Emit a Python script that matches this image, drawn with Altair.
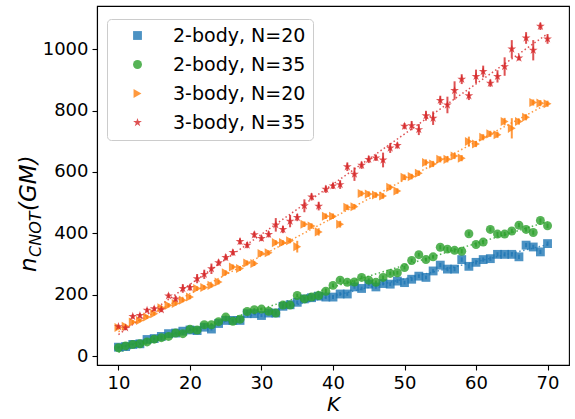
import altair as alt
import pandas as pd

K = list(range(10, 71))

series_names = ["2-body, N=20", "2-body, N=35", "3-body, N=20", "3-body, N=35"]
colors = ["#1f77b4", "#2ca02c", "#ff7f0e", "#d62728"]
STAR = ("M0,-1L0.2245,-0.309L0.951,-0.309L0.363,0.118L0.588,0.809L0,0.382"
        "L-0.588,0.809L-0.363,0.118L-0.951,-0.309L-0.2245,-0.309Z")
shapes = ["square", "circle", "triangle-right", STAR]
marker_sizes = [78, 85, 92, 140]

blue_vals = [30, 32, 39, 41, 55, 58, 65, 74, 76, 82, 86, 84, 95, 89, 107, 117, 117, 117, 139, 139,
             133, 141, 141, 163, 168, 176, 187, 191, 196, 193, 193, 203, 203, 226, 221, 235, 226, 237,
             235, 245, 240, 251, 261, 257, 278, 297, 284, 284, 315, 293, 306, 315, 318, 332, 332, 332,
             324, 362, 356, 340, 367]
blue_err = [3, 3, 3, 3, 4, 4, 4, 4, 4, 4, 4, 4, 5, 5, 5, 5, 5, 5, 5, 5, 5, 5, 5, 5, 5, 6, 6, 6, 6, 6,
            6, 6, 6, 6, 6, 6, 6, 6, 6, 6, 6, 6, 6, 6, 6, 7, 7, 7, 7, 7, 7, 7, 7, 7, 7, 7, 7, 7, 7, 7, 7]

green_vals = [28, 34, 39, 41, 47, 56, 61, 65, 76, 74, 88, 86, 103, 103, 113, 128, 114, 121, 146, 152,
              154, 147, 141, 167, 167, 198, 187, 193, 198, 212, 231, 248, 241, 242, 257, 248, 241, 257,
              270, 272, 289, 312, 331, 315, 324, 355, 349, 345, 342, 399, 364, 372, 413, 398, 398, 408,
              427, 413, 403, 442, 425]
green_err = [3, 3, 3, 3, 4, 4, 4, 4, 4, 4, 4, 4, 5, 5, 5, 5, 5, 5, 5, 5, 5, 5, 5, 5, 5, 6, 6, 6, 6, 6,
             6, 6, 6, 6, 6, 6, 6, 6, 6, 6, 6, 6, 6, 6, 6, 7, 7, 7, 7, 7, 7, 7, 7, 7, 7, 7, 7, 7, 7, 7, 7]

orange_vals = [94, 98, 112, 117, 128, 139, 158, 166, 172, 183, 193, 221, 224, 231, 242, 272, 291, 286,
               304, 302, 335, 337, 370, 370, 376, 357, 430, 424, 405, 456, 456, 430, 485, 487, 530,
               528, 525, 522, 550, 538, 583, 585, 596, 631, 626, 641, 641, 652, 645, 699, 691, 713,
               724, 721, 764, 742, 764, 778, 826, 824, 822]
orange_err = [6, 6, 6, 6, 6, 6, 7, 7, 7, 7, 7, 7, 7, 7, 8, 8, 8, 8, 8, 8, 8, 8, 8, 8, 8, 19, 9, 9, 12,
              9, 9, 11, 9, 9, 9, 9, 9, 9, 9, 9, 9, 9, 9, 10, 10, 10, 10, 10, 10, 16, 10, 10, 10, 10, 12,
              33, 10, 10, 10, 10, 10]

red_vals = [97, 93, 130, 133, 150, 155, 152, 197, 187, 221, 224, 253, 267, 285, 305, 322, 338, 374, 362,
            396, 384, 397, 428, 413, 440, 452, 490, 519, 489, 544, 555, 559, 617, 593, 622, 641, 646,
            639, 678, 686, 749, 751, 738, 783, 775, 833, 818, 865, 902, 848, 911, 927, 889, 911, 943,
            1000, 971, 1036, 996, 1074, 1033]
red_err = [6, 6, 7, 7, 7, 8, 8, 8, 9, 14, 10, 15, 15, 17, 10, 10, 10, 10, 10, 10, 9, 10, 22, 12, 20, 12,
           21, 12, 14, 12, 10, 14, 14, 22, 12, 12, 10, 24, 16, 10, 10, 15, 18, 16, 22, 15, 27, 30, 16,
           14, 22, 19, 12, 20, 30, 29, 8, 19, 33, 12, 16]

x_ticks = [10, 20, 30, 40, 50, 60, 70]
y_ticks = [0, 200, 400, 600, 800, 1000]

rows = []
for name, vals, errs in zip(series_names,
                            [blue_vals, green_vals, orange_vals, red_vals],
                            [blue_err, green_err, orange_err, red_err]):
    for k, v, e in zip(K, vals, errs):
        rows.append({"series": name, "K": k, "v": v, "lo": v - e, "hi": v + e})
df = pd.DataFrame(rows)

FONT = "DejaVu Sans"

xscale = alt.Scale(domain=[7, 73], nice=False, zero=False)
yscale = alt.Scale(domain=[-28, 1140], nice=False, zero=False)
xenc = alt.X("K:Q", scale=xscale,
             axis=alt.Axis(values=x_ticks, title="K", titleFontStyle="italic",
                           titleFontWeight="normal", format="d"))
yenc = alt.Y("v:Q", scale=yscale, axis=alt.Axis(values=y_ticks, title=None, format="d"))
cscale = alt.Scale(domain=series_names, range=colors)
sscale = alt.Scale(domain=series_names, range=shapes)
zscale = alt.Scale(domain=series_names, range=marker_sizes)

legend = alt.Legend(title=None, orient="none", legendX=10, legendY=13, padding=7,
                    cornerRadius=4, strokeColor="#cccccc", fillColor="white",
                    labelFontSize=19, labelColor="black", labelFont=FONT,
                    symbolOpacity=0.8, symbolStrokeWidth=0,
                    rowPadding=9, symbolOffset=14, labelOffset=26)

base = alt.Chart(df)

fits = base.transform_regression("K", "v", groupby=["series"]).mark_line(
    strokeDash=[1.5, 2.5], strokeWidth=1.5, opacity=0.8
).encode(x=xenc, y=yenc, stroke=alt.Stroke("series:N", scale=cscale, legend=legend))

bars = base.mark_rule(strokeWidth=2, opacity=0.8).encode(
    x=xenc, y=alt.Y("lo:Q", scale=yscale), y2="hi:Q",
    stroke=alt.Stroke("series:N", scale=cscale, legend=legend))

pts = base.mark_point(filled=True, opacity=0.8, strokeWidth=0).encode(
    x=xenc, y=yenc,
    color=alt.Color("series:N", scale=cscale, legend=legend),
    shape=alt.Shape("series:N", scale=sscale, legend=legend),
    size=alt.Size("series:N", scale=zscale, legend=legend))

# y-axis title: n_CNOT(GM) with subscript
t1 = alt.Chart(pd.DataFrame({"t": ["n"]})).mark_text(
    angle=270, align="left", baseline="alphabetic", fontSize=23, fontStyle="italic",
    font=FONT, color="black").encode(text="t:N", x=alt.value(-61), y=alt.value(266))
t2 = alt.Chart(pd.DataFrame({"t": ["CNOT"]})).mark_text(
    angle=270, align="left", baseline="alphabetic", fontSize=16, fontStyle="italic",
    font=FONT, color="black").encode(text="t:N", x=alt.value(-56), y=alt.value(251))
t3 = alt.Chart(pd.DataFrame({"t": ["(GM)"]})).mark_text(
    angle=270, align="left", baseline="alphabetic", fontSize=23, fontStyle="italic",
    font=FONT, color="black").encode(text="t:N", x=alt.value(-61), y=alt.value(205))

chart = alt.layer(fits, bars, pts, t1, t2, t3).properties(
    width=472, height=359,
    autosize=alt.AutoSizeParams(type="none"),
    padding={"left": 97, "top": 6, "right": 6, "bottom": 54},
    background="white",
).configure_view(stroke="black", strokeWidth=1.1).configure_axis(
    grid=False, domainColor="black", domainWidth=1.1, tickColor="black", tickSize=5,
    tickWidth=1.1, labelFontSize=18, labelColor="black", labelFont=FONT, labelPadding=4,
    titleFont=FONT, titleFontSize=20, titleFontWeight="normal", titleColor="black",
    titlePadding=2
)

chart.save("out.html", embed_options={"renderer": "svg", "actions": False})
